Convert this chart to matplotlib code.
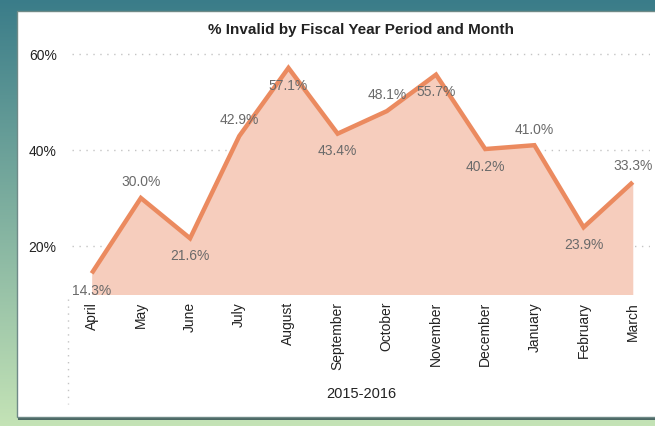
import numpy as np
import matplotlib
matplotlib.use('Agg')
import matplotlib.pyplot as plt
from matplotlib.patches import Rectangle
from matplotlib.lines import Line2D

months = ['April', 'May', 'June', 'July', 'August', 'September', 'October',
          'November', 'December', 'January', 'February', 'March']
pct_invalid = [14.3, 30.0, 21.6, 42.9, 57.1, 43.4, 48.1, 55.7, 40.2, 41.0, 23.9, 33.3]
label_above = [False, True, False, True, False, False, True, False, False, True, False, True]
yticks = [20, 40, 60]
period = '2015-2016'

plt.rcParams['font.family'] = ['Liberation Sans', 'DejaVu Sans']

W, H = 655, 427
fig = plt.figure(figsize=(W/100, H/100), dpi=100)

# background gradient (dashboard)
bg = fig.add_axes([0, 0, 1, 1], zorder=-10)
top = np.array([0x3a, 0x7c, 0x89]) / 255.
bot = np.array([0xc4, 0xe3, 0xb6]) / 255.
t = np.linspace(0, 1, 200)[:, None]
grad = top*(1-t) + bot*t
bg.imshow(grad[:, None, :].repeat(2, axis=1), aspect='auto', extent=[0, 1, 0, 1])
bg.set_xlim(0, 1)
bg.set_ylim(0, 1)
bg.axis('off')

# white card
fig.patches.append(Rectangle((18/W, 1-421/H), (W-14)/W, (421-14)/H, transform=fig.transFigure,
                             facecolor='#4a6764', edgecolor='none', zorder=-5))
fig.patches.append(Rectangle((17/W, 1-418/H), (W-14)/W, (418-12)/H, transform=fig.transFigure,
                             facecolor='white', edgecolor='#6f8a87', lw=1, zorder=-4))

# main axes
ax = fig.add_axes([72/W, 1-295/H, (650-72)/W, (295-45.4)/H])
ax.patch.set_alpha(0)
x = np.arange(len(months))
ax.fill_between(x, pct_invalid, 0, color='#f6cdbd', lw=0)
ax.plot(x, pct_invalid, color='#eb8a5f', lw=3.2, solid_capstyle='butt', solid_joinstyle='miter')

for xi, v, up in zip(x, pct_invalid, label_above):
    ax.annotate('%.1f%%' % v, (xi, v), xytext=(0, 12 if up else -12), textcoords='offset points',
                ha='center', va='center', fontsize=10, color='#6a6a6a')

ax.set_xlim(-0.4, 11.35)
ax.set_ylim(10, 62)
ax.set_yticks(yticks)
ax.set_yticklabels(['%d%%' % v for v in yticks])
ax.set_xticks(x)
ax.set_xticklabels(months, rotation=90, va='top')
ax.tick_params(axis='both', length=0, labelsize=10, colors='#222222')
ax.tick_params(axis='x', pad=5)
ax.tick_params(axis='y', pad=11)
for yv in yticks:
    ax.axhline(yv, color='#c4c4c4', lw=1, ls=(0, (1, 4)), zorder=0)
for s in ax.spines.values():
    s.set_visible(False)

ax.set_xlabel(period, fontsize=10.5, color='#222222', labelpad=12)
ax.set_title('% Invalid by Fiscal Year Period and Month', fontsize=11, fontweight='bold',
             color='#222222', pad=8)

# dotted group separator
fig.lines.append(Line2D([68/W, 68/W], [1-300/H, 1-405/H], transform=fig.transFigure,
                        color='#c4c4c4', lw=1, ls=(0, (1, 4))))

fig.savefig('out.png', dpi=100)
